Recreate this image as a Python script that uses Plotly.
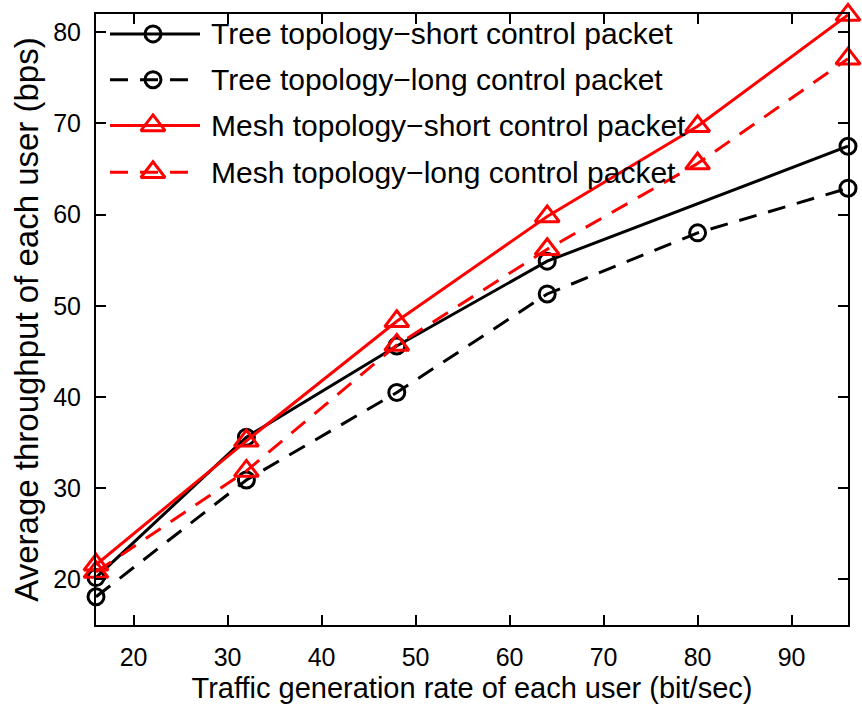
import plotly.graph_objects as go

# Traffic generation rate of each user (bit/sec)
x_rate = [16, 32, 48, 64, 80, 96]
x_tree_short = [16, 32, 48, 64, 96]

# Average throughput of each user (bps)
tree_short = [20.2, 35.6, 45.6, 54.9, 67.5]
tree_long = [18.1, 30.9, 40.5, 51.3, 58.0, 62.9]
mesh_short = [21.6, 35.2, 48.3, 59.8, 69.7, 81.9]
mesh_long = [20.8, 31.9, 45.7, 56.2, 65.6, 77.1]

series_names = [
    "Tree topology\u2212short control packet",
    "Tree topology\u2212long control packet",
    "Mesh topology\u2212short control packet",
    "Mesh topology\u2212long control packet",
]

x_ticks = [20, 30, 40, 50, 60, 70, 80, 90]
y_ticks = [20, 30, 40, 50, 60, 70, 80]

FONT = "Liberation Sans, Arial, sans-serif"
LW = 3
DASH = "18px,12px"

styles = [
    dict(color="black", dash="solid", symbol="circle-open", size=16),
    dict(color="black", dash=DASH, symbol="circle-open", size=16),
    dict(color="red", dash="solid", symbol="triangle-up-open", size=21),
    dict(color="red", dash=DASH, symbol="triangle-up-open", size=21),
]
series_x = [x_tree_short, x_rate, x_rate, x_rate]
series_y = [tree_short, tree_long, mesh_short, mesh_long]

fig = go.Figure()

for xs, ys, st, name in zip(series_x, series_y, styles, series_names):
    fig.add_trace(go.Scatter(
        x=xs, y=ys, name=name, mode="lines+markers",
        line=dict(color=st["color"], width=LW, dash=st["dash"]),
        marker=dict(symbol=st["symbol"], size=st["size"], color=st["color"],
                    line=dict(width=LW, color=st["color"])),
        cliponaxis=False, showlegend=False,
    ))

# Legend drawn inside the axes on a pixel-scaled overlay
PL, PR, PT, PB = 96, 848, 12, 626
leg_rows = [32, 78, 124, 171]
leg_x0, leg_x1, leg_mark, leg_text = 110, 200, 153, 209
for row, st, name in zip(leg_rows, styles, series_names):
    fig.add_trace(go.Scatter(
        x=[leg_x0, leg_x1], y=[row, row], xaxis="x2", yaxis="y2", mode="lines",
        line=dict(color=st["color"], width=LW, dash=st["dash"]),
        showlegend=False, hoverinfo="skip",
    ))
    fig.add_trace(go.Scatter(
        x=[leg_mark], y=[row], xaxis="x2", yaxis="y2", mode="markers",
        marker=dict(symbol=st["symbol"], size=st["size"], color=st["color"],
                    line=dict(width=LW, color=st["color"])),
        showlegend=False, hoverinfo="skip",
    ))
    fig.add_annotation(
        x=leg_text, y=row, xref="x2", yref="y2", text=name, showarrow=False,
        xanchor="left", yanchor="middle",
        font=dict(family=FONT, size=30, color="black"),
    )

axis_common = dict(
    showline=True, linecolor="black", linewidth=2,
    mirror="ticks", ticks="inside", ticklen=10, tickwidth=2, tickcolor="black",
    showgrid=False, zeroline=False,
    tickfont=dict(family=FONT, size=25, color="black"),
)

fig.update_layout(
    width=862, height=711,
    margin=dict(l=PL, r=862 - PR, t=PT, b=711 - PB),
    paper_bgcolor="white", plot_bgcolor="white",
    xaxis=dict(
        range=[16, 96], tickvals=x_ticks, ticklabelstandoff=9,
        title=dict(text="Traffic generation rate of each user (bit/sec)",
                   font=dict(family=FONT, size=29, color="black"), standoff=8),
        **axis_common,
    ),
    yaxis=dict(
        range=[15, 82], tickvals=y_ticks, ticklabelstandoff=8,
        title=dict(text="Average throughput of each user (bps)",
                   font=dict(family=FONT, size=33, color="black"), standoff=5),
        **axis_common,
    ),
    xaxis2=dict(range=[PL, PR], overlaying="x", visible=False, fixedrange=True),
    yaxis2=dict(range=[PB, PT], overlaying="y", visible=False, fixedrange=True),
    showlegend=False,
)

fig.write_html("out.html")
